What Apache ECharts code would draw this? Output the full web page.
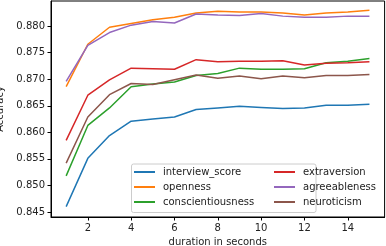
<!DOCTYPE html>
<html><head><meta charset="utf-8">
<script src="https://cdn.jsdelivr.net/npm/echarts@6/dist/echarts.min.js"></script>
<style>html,body{margin:0;padding:0;background:#fff}#c{width:386px;height:246px}</style>
</head><body><div id="c"></div>
<script>
const durations = [1,2,3,4,5,6,7,8,9,10,11,12,13,14,15];
const interview_score = [0.8460,0.8551,0.8594,0.8621,0.8625,0.8629,0.8643,0.8646,0.8649,0.8647,0.8645,0.8646,0.8651,0.8651,0.8653];
const openness = [0.8686,0.8766,0.8798,0.8805,0.8812,0.8817,0.8825,0.8828,0.8827,0.8827,0.8825,0.8821,0.8825,0.8827,0.8830];
const conscientiousness = [0.8518,0.8613,0.8646,0.8686,0.8691,0.8695,0.8707,0.8711,0.8721,0.8719,0.8719,0.8720,0.8731,0.8734,0.8739];
const extraversion = [0.8585,0.8670,0.8699,0.8721,0.8720,0.8719,0.8737,0.8733,0.8734,0.8734,0.8735,0.8727,0.8730,0.8731,0.8733];
const agreeableness = [0.8696,0.8764,0.8788,0.8802,0.8809,0.8806,0.8823,0.8821,0.8820,0.8824,0.8819,0.8817,0.8817,0.8819,0.8819];
const neuroticism = [0.8542,0.8629,0.8671,0.8692,0.8690,0.8699,0.8708,0.8702,0.8706,0.8701,0.8706,0.8703,0.8707,0.8707,0.8709];
const xTicks = [2,4,6,8,10,12,14];
const yTicks = [0.845,0.850,0.855,0.860,0.865,0.870,0.875,0.880];

const seriesDefs = [
  ['interview_score', interview_score, '#1f77b4'],
  ['openness', openness, '#ff7f0e'],
  ['conscientiousness', conscientiousness, '#2ca02c'],
  ['extraversion', extraversion, '#d62728'],
  ['agreeableness', agreeableness, '#9467bd'],
  ['neuroticism', neuroticism, '#8c564b']
];
const font = 'DejaVu Sans';
const txt = '#222';
const chart = echarts.init(document.getElementById('c'), null, {renderer:'canvas'});
const legendCommon = {
  orient:'vertical', icon:'rect', itemWidth:21, itemHeight:2, itemGap:3, padding:0,
  textStyle:{fontFamily:font, fontSize:10, color:txt, lineHeight:12, padding:[0,0,0,3]},
  z:10
};
chart.setOption({
  animation:false,
  grid:{left:51, right:1.4, top:1, bottom:29, show:true, borderColor:'#000', borderWidth:1,
        containLabel:false, outerBoundsMode:'none'},
  xAxis:{
    type:'value', min:0.3, max:15.7,
    name:'duration in seconds', nameLocation:'middle', nameGap:19,
    nameTextStyle:{fontFamily:font, fontSize:10, color:txt},
    axisLine:{show:true, lineStyle:{color:'#000', width:1}},
    axisTick:{show:true, length:3.5, lineStyle:{color:'#000'}, customValues:xTicks},
    axisLabel:{fontFamily:font, fontSize:10, color:txt, margin:6, customValues:xTicks},
    splitLine:{show:false}
  },
  yAxis:{
    type:'value', min:0.84405, max:0.88475,
    name:'Accuracy', nameLocation:'middle', nameGap:45, nameRotate:90,
    nameTextStyle:{fontFamily:font, fontSize:10, color:txt},
    axisLine:{show:true, lineStyle:{color:'#000', width:1}},
    axisTick:{show:true, length:3.5, lineStyle:{color:'#000'}, customValues:yTicks},
    axisLabel:{fontFamily:font, fontSize:10, color:txt, margin:6, customValues:yTicks,
      formatter:v=>v.toFixed(3)},
    splitLine:{show:false}
  },
  legend:[
    Object.assign({left:134, top:166, data:seriesDefs.slice(0,3).map(s=>s[0])}, legendCommon),
    Object.assign({left:274, top:166, data:seriesDefs.slice(3).map(s=>s[0])}, legendCommon)
  ],
  graphic:[{
    type:'rect', z:5, shape:{x:131.5, y:164, width:184.5, height:48.5, r:2},
    style:{fill:'rgba(255,255,255,0.8)', stroke:'#ccc', lineWidth:1}
  }],
  series: seriesDefs.map(([name, vals, color]) => ({
    name, type:'line', showSymbol:false, symbol:'none', color,
    lineStyle:{width:1.5, color},
    data: durations.map((d,i)=>[d, vals[i]])
  }))
});
</script></body></html>
